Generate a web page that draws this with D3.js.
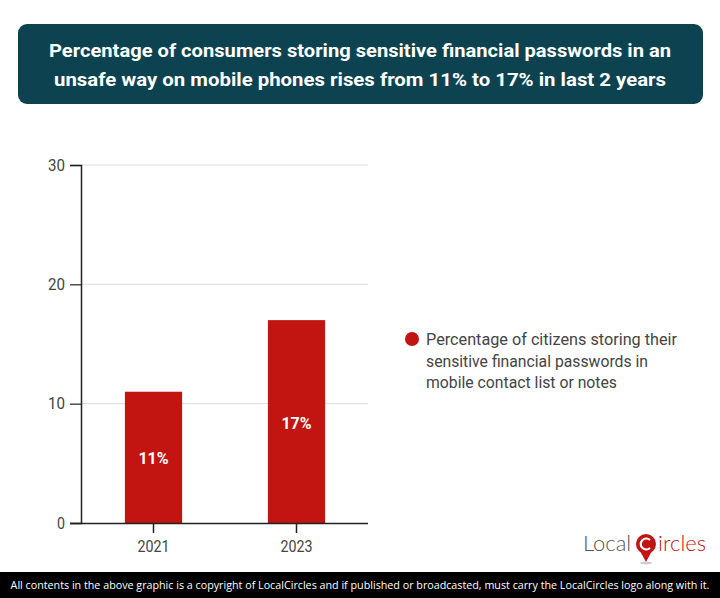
<!DOCTYPE html>
<html><head><meta charset="utf-8">
<script src="https://cdn.jsdelivr.net/npm/d3@7"></script>
<style>
html,body{margin:0;padding:0;background:#fff;}
svg{display:block;}
</style></head>
<body>
<svg id="c" width="720" height="598"></svg>
<script>
const titleLines = ["Percentage of consumers storing sensitive financial passwords in an","unsafe way on mobile phones rises from 11% to 17% in last 2 years"];
const categories = ["2021","2023"];
const values = [11,17];
const valueLabels = ["11%","17%"];
const yTicks = [0,10,20,30];
const legendLines = ["Percentage of citizens storing their","sensitive financial passwords in","mobile contact list or notes"];
const footerText = "All contents in the above graphic is a copyright of LocalCircles and if published or broadcasted, must carry the LocalCircles logo along with it.";

const svg = d3.select("#c");
const red = "#c21410";

// title box
svg.append("rect").attr("x",18).attr("y",24).attr("width",685).attr("height",80).attr("rx",9).attr("fill","#0d4351");
svg.selectAll("text.title").data(titleLines).join("text")
  .attr("x",360).attr("y",(d,i)=>57+i*29).attr("text-anchor","middle")
  .attr("font-family","Roboto").attr("font-weight","bold").attr("font-size",19)
  .attr("fill","#fff").attr("textLength",(d,i)=>i==0?622:612).attr("lengthAdjust","spacingAndGlyphs").text(d=>d);

// scales
const x = d3.scaleBand().domain(categories).range([82,368]).paddingInner(0.6).paddingOuter(0.3);
const y = d3.scaleLinear().domain([0,30]).range([523,165]);

// gridlines
svg.selectAll("line.grid").data(yTicks.filter(d=>d>0)).join("line")
  .attr("x1",81).attr("x2",368).attr("y1",d=>y(d)).attr("y2",d=>y(d))
  .attr("stroke","#dcdcdc").attr("stroke-width",1);

// bars
svg.selectAll("rect.bar").data(values).join("rect")
  .attr("x",(d,i)=>x(categories[i])).attr("width",x.bandwidth())
  .attr("y",d=>y(d)).attr("height",d=>y(0)-y(d)).attr("fill",red);

// value labels
svg.selectAll("text.val").data(values).join("text")
  .attr("x",(d,i)=>x(categories[i])+x.bandwidth()/2).attr("y",d=>(y(d)+y(0))/2+7)
  .attr("text-anchor","middle").attr("font-family","Roboto").attr("font-weight","bold")
  .attr("font-size",16).attr("fill","#fff").text((d,i)=>valueLabels[i]);

// y axis
const yAxis = svg.append("g").attr("transform","translate(81,0)")
  .call(d3.axisLeft(y).tickValues(yTicks).tickSize(11).tickPadding(5));
yAxis.select(".domain").attr("stroke","#222").attr("stroke-width",1.5);
yAxis.selectAll(".tick line").attr("stroke","#222").attr("stroke-width",1.2);
yAxis.selectAll("text").attr("font-family","Roboto").attr("font-size",16).attr("fill","#444")
  .attr("textLength",(d)=>d===0?8:17).attr("lengthAdjust","spacingAndGlyphs");

// x axis
const xAxis = svg.append("g").attr("transform","translate(0,523)")
  .call(d3.axisBottom(x).tickSize(10).tickPadding(8).tickSizeOuter(0));
xAxis.select(".domain").attr("stroke","#222").attr("stroke-width",1.5).attr("d","M70,0.5H368");
xAxis.selectAll(".tick line").attr("stroke","#222").attr("stroke-width",1.5);
xAxis.selectAll("text").attr("font-family","Roboto").attr("font-size",16).attr("fill","#444")
  .attr("textLength",32).attr("lengthAdjust","spacingAndGlyphs");

// legend
svg.append("circle").attr("cx",412).attr("cy",339).attr("r",7).attr("fill",red);
svg.selectAll("text.leg").data(legendLines).join("text")
  .attr("x",426).attr("y",(d,i)=>345+i*21.5)
  .attr("font-family","Roboto").attr("font-size",16).attr("fill","#444")
  .attr("textLength",(d,i)=>[251,222,191][i]).attr("lengthAdjust","spacingAndGlyphs").text(d=>d);

// logo
const logo = svg.append("g");
logo.append("text").attr("x",583).attr("y",551).attr("font-family","Lato").attr("font-weight",300)
  .attr("font-size",22).attr("fill","#555").text("Local");
logo.append("circle").attr("cx",646).attr("cy",544).attr("r",10).attr("fill",red);
logo.append("path").attr("d","M640,551 L646,562 L652,551 Z").attr("fill",red);
logo.append("path").attr("d","M650,540 A5.5,5.5 0 1,0 650,548").attr("fill","none").attr("stroke","#fff").attr("stroke-width",2.2);
logo.append("ellipse").attr("cx",646).attr("cy",563).attr("rx",6).attr("ry",1.5).attr("fill","#ccc");
logo.append("text").attr("x",658).attr("y",551).attr("font-family","Lato").attr("font-weight",300)
  .attr("font-size",22).attr("fill",red).text("ircles");

// footer
svg.append("rect").attr("x",0).attr("y",572).attr("width",720).attr("height",26).attr("fill","#000");
const fg = svg.append("g");
const ft = fg.append("text").attr("x",0).attr("y",0).attr("text-anchor","middle")
  .attr("font-family","Open Sans").attr("font-size",11.5).attr("fill","#fff").text(footerText);
const natural = ft.node().getComputedTextLength();
const sx = Math.min(1, 700/natural);
fg.attr("transform",`translate(360,589) scale(${sx},1)`);
</script>
</body></html>
